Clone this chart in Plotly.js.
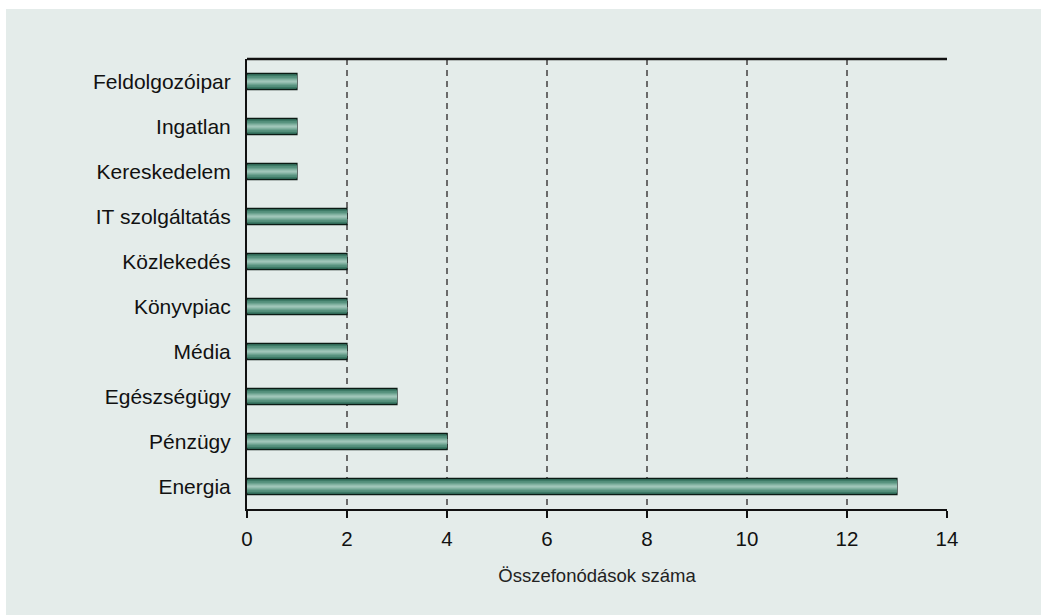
<!DOCTYPE html>
<html>
<head>
<meta charset="utf-8">
<script src="https://cdn.plot.ly/plotly-3.0.1.min.js"></script>
<style>html,body{margin:0;padding:0;background:#fff;}#chart{width:1041px;height:615px;}</style>
</head>
<body>
<div id="chart"></div>
<script>
const categories = ["Energia","Pénzügy","Egészségügy","Média","Könyvpiac","Közlekedés","IT szolgáltatás","Kereskedelem","Ingatlan","Feldolgozóipar"];
const values = [13,4,3,2,2,2,2,1,1,1];
const xTicks = [0,2,4,6,8,10,12,14];
const xTitle = "Összefonódások száma";

// layered bars to imitate the cylinder shading
const layers = [
  {w:0.36, c:"#2c6553", line:{color:"#0b1a14", width:1.2}},
  {w:0.30, c:"#3d7a66", line:{width:0}},
  {w:0.24, c:"#528e7a", line:{width:0}},
  {w:0.17, c:"#6ca290", line:{width:0}},
  {w:0.10, c:"#88b6a6", line:{width:0}},
  {w:0.04, c:"#a0c6b9", line:{width:0}}
];
const traces = layers.map(l => ({
  type:"bar", orientation:"h", x:values, y:categories,
  width:l.w, marker:{color:l.c, line:l.line}, hoverinfo:"skip", showlegend:false
}));

const layout = {
  width:1041, height:615,
  margin:{l:247, r:94, t:59, b:106},
  paper_bgcolor:"#ffffff",
  plot_bgcolor:"rgba(0,0,0,0)",
  barmode:"overlay",
  font:{family:"Liberation Sans, Arial, sans-serif", size:16, color:"#111"},
  xaxis:{
    range:[0,14], tickvals:xTicks, ticktext:xTicks.map(String),
    showgrid:true, gridcolor:"#6a6a6a", griddash:"6px,5px", gridwidth:1.5,
    zeroline:false, showline:true, linecolor:"#111", linewidth:2,
    ticks:"outside", ticklen:7, tickwidth:2, tickcolor:"#111",
    ticklabelstandoff:3,
    tickfont:{size:20.5, color:"#111"},
    title:{text:xTitle, font:{family:"Liberation Sans Narrow, Arial Narrow, sans-serif", size:18.5, color:"#222"}, standoff:20},
    fixedrange:true
  },
  yaxis:{
    categoryorder:"array", categoryarray:categories,
    showgrid:false, zeroline:false, showline:true, linecolor:"#111", linewidth:2,
    ticks:"outside", ticklen:10, tickcolor:"rgba(0,0,0,0)",
    tickfont:{size:21, color:"#111"}, fixedrange:true
  },
  shapes:[
    {type:"rect", xref:"paper", yref:"paper", x0:-0.3443, x1:2, y0:-1, y1:1.1111,
     fillcolor:"#e4ecea", line:{width:0}, layer:"below"},
    {type:"line", xref:"paper", yref:"paper", x0:0, x1:1, y0:1, y1:1,
     line:{color:"#111", width:2.5}}
  ]
};
Plotly.newPlot("chart", traces, layout, {displayModeBar:false, staticPlot:true});
</script>
</body>
</html>
